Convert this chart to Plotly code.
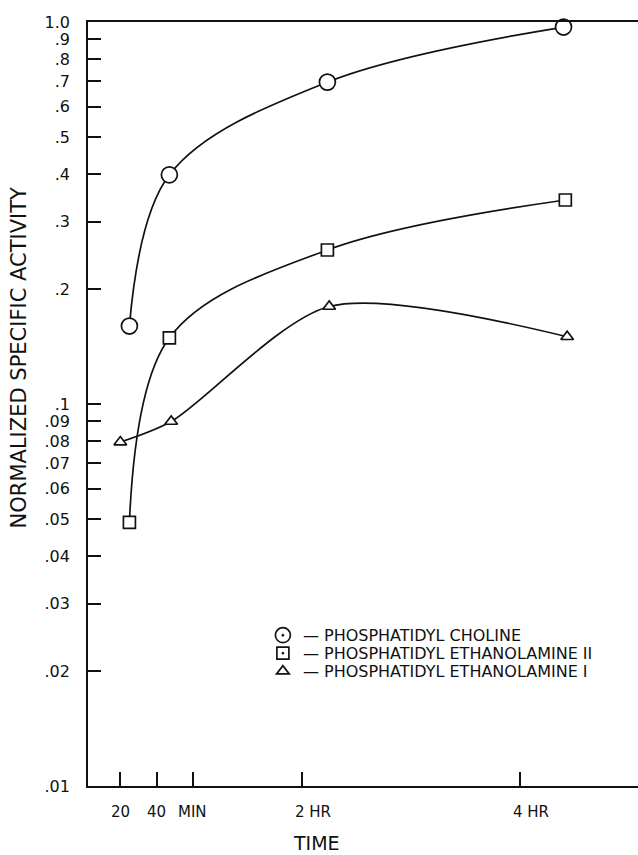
import plotly.graph_objects as go

# ---- data (time in minutes, normalized specific activity) ----
pc_time = [25, 47, 134, 264]
pc_val = [0.160, 0.398, 0.696, 0.970]

pe2_time = [25, 47, 134, 265]
pe2_val = [0.049, 0.149, 0.253, 0.342]

pe1_time = [20, 48, 135, 266]
pe1_val = [0.0795, 0.090, 0.180, 0.150]

series_names = ["PHOSPHATIDYL CHOLINE", "PHOSPHATIDYL ETHANOLAMINE II", "PHOSPHATIDYL ETHANOLAMINE I"]

x_tick_vals = [20, 40, 60, 120, 240]
x_tick_text = ["20", "40", "MIN", "2 HR", "4 HR"]

y_tick_vals = [0.01, 0.02, 0.03, 0.04, 0.05, 0.06, 0.07, 0.08, 0.09,
               0.1, 0.2, 0.3, 0.4, 0.5, 0.6, 0.7, 0.8, 0.9, 1.0]
y_tick_text = [".01", ".02", ".03", ".04", ".05", ".06", ".07", ".08", ".09",
               ".1", ".2", ".3", ".4", ".5", ".6", ".7", ".8", ".9", "1.0"]

x_title = "TIME"
y_title = "NORMALIZED SPECIFIC ACTIVITY"

FONT = "DejaVu Sans, Liberation Sans, Arial, sans-serif"
INK = "#111111"

fig = go.Figure()

data_series = [
    (pc_time, pc_val, "circle", 16, "circle-open-dot", 15, 1.0),
    (pe2_time, pe2_val, "square", 12, "square-open-dot", 12, 1.0),
    (pe1_time, pe1_val, "triangle-up", 11, "triangle-up-open", 11, 0.8),
]
legend_ids = ["legend", "legend2", "legend3"]

for (xs, ys, sym, size, legsym, legsize, sm), name in zip(data_series, series_names):
    fig.add_trace(go.Scatter(
        x=xs, y=ys, mode="lines+markers",
        line=dict(color=INK, width=1.7, shape="spline", smoothing=sm),
        marker=dict(symbol=sym, size=size, color="white",
                    line=dict(color=INK, width=1.7)),
        cliponaxis=False, showlegend=False, name=name,
    ))

for (xs, ys, sym, size, legsym, legsize, sm), name, lid in zip(data_series, series_names, legend_ids):
    fig.add_trace(go.Scatter(
        x=[None], y=[None], mode="markers",
        marker=dict(symbol=legsym, size=legsize, color=INK,
                    line=dict(color=INK, width=1.7)),
        name="\u2014 " + name, showlegend=True, legend=lid,
    ))

annotations = []
for v, t in zip(x_tick_vals, x_tick_text):
    hr = "HR" in t
    annotations.append(dict(
        x=v, y=0, xref="x", yref="paper", text=t, showarrow=False,
        xanchor="left" if hr else "center", xshift=-9 if hr else 0,
        yanchor="middle", yshift=-26,
        font=dict(family=FONT, size=15, color=INK),
    ))

annotations.append(dict(
    x=0.415, y=0, xref="paper", yref="paper", text=x_title, showarrow=False,
    xanchor="center", yanchor="middle", yshift=-57,
    font=dict(family=FONT, size=19, color=INK),
))
annotations.append(dict(
    x=0, y=0.561, xref="paper", yref="paper", text=y_title, showarrow=False,
    textangle=-90, xanchor="center", yanchor="middle", xshift=-69,
    font=dict(family=FONT, size=21, color=INK),
))

legend_style = dict(
    x=0.318, xanchor="left", yanchor="top",
    bgcolor="rgba(0,0,0,0)", borderwidth=0,
    font=dict(family=FONT, size=16, color=INK),
    itemwidth=30,
)

fig.update_layout(
    width=638, height=855,
    margin=dict(l=88, r=0, t=22, b=69),
    paper_bgcolor="white", plot_bgcolor="white",
    font=dict(family=FONT, color=INK),
    annotations=annotations,
    legend=dict(legend_style, y=0.2195),
    legend2=dict(legend_style, y=0.196),
    legend3=dict(legend_style, y=0.1725),
    showlegend=True,
)

fig.update_xaxes(
    range=[2.2, 305], tickvals=x_tick_vals, ticks="inside", ticklen=14,
    tickwidth=1.5, tickcolor=INK, showticklabels=False,
    showline=True, linewidth=1.7, linecolor=INK, mirror=True,
    showgrid=False, zeroline=False,
)
fig.update_yaxes(
    type="log", range=[-2, 0], tickvals=y_tick_vals, ticktext=y_tick_text,
    ticks="inside", ticklen=13, tickwidth=1.5, tickcolor=INK,
    ticklabelstandoff=13,
    tickfont=dict(family=FONT, size=16, color=INK),
    showline=True, linewidth=1.7, linecolor=INK, mirror=False,
    showgrid=False, zeroline=False,
)

fig.write_html("out.html")
